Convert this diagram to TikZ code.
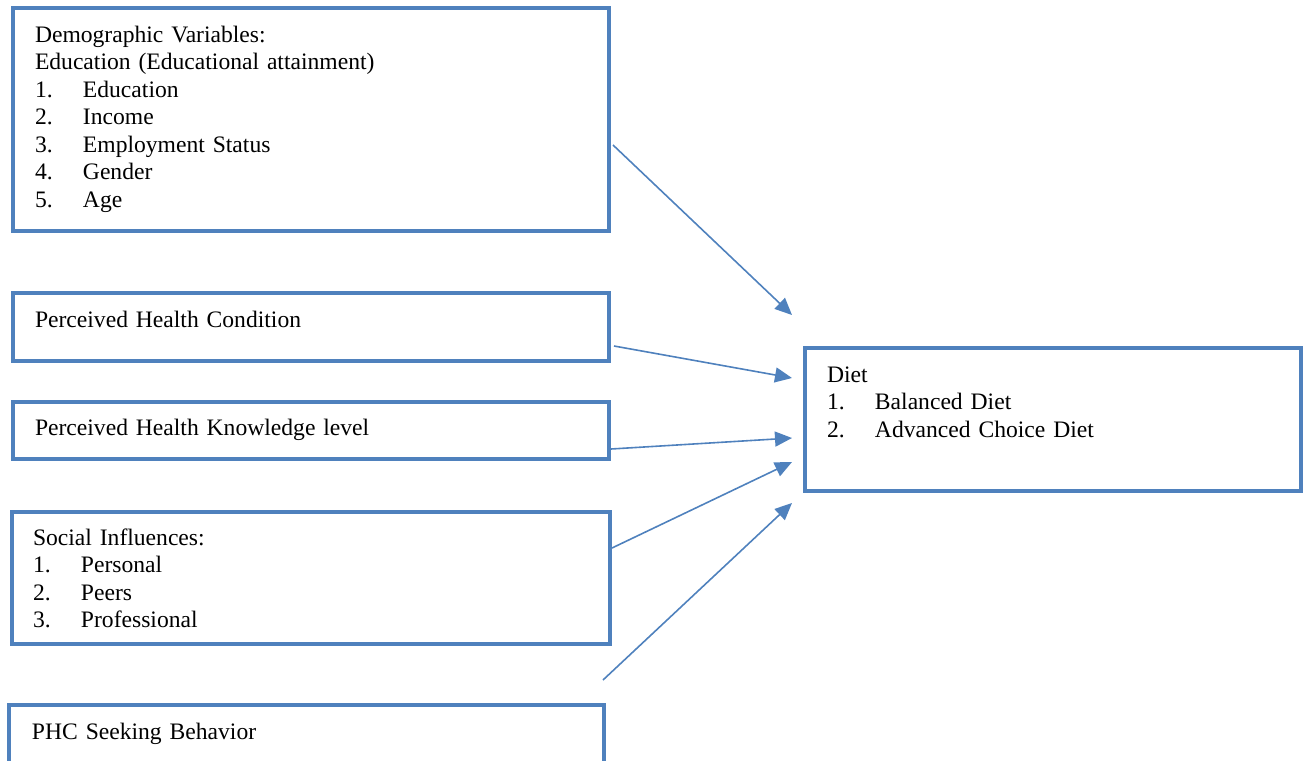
\documentclass[tikz,border=0pt]{standalone}
\usepackage{fontspec}
\setmainfont{Liberation Serif}
\usetikzlibrary{arrows.meta}
\definecolor{ofblue}{RGB}{79,129,189}
\newcommand{\numitem}[1]{\makebox[24pt][l]{#1}}

\begin{document}
\begin{tikzpicture}[
        x=0.5pt, y=-0.5pt,
        box/.style={draw=ofblue, line width=2pt, anchor=north west, align=left,
            inner ysep=0pt, outer sep=0pt, font=\fontsize{11.8}{13.75}\selectfont},
        arrow/.style={-{Triangle[length=8.5pt,width=7.5pt]}, draw=ofblue, line width=0.8pt}
    ]
        \path[use as bounding box, clip] (0,0) rectangle (1308,761);

        % Factors on the left
        \node[box, inner xsep=11.25pt, text width=275.75pt, text height=17.25pt, text depth=94.25pt] (demo) at (12.5,7.5)
            {Demographic Variables:\\
             Education (Educational attainment)\\
             \numitem{1.}Education\\
             \numitem{2.}Income\\
             \numitem{3.}Employment Status\\
             \numitem{4.}Gender\\
             \numitem{5.}Age};
        \node[box, inner xsep=11.25pt, text width=275.75pt, text height=17.25pt, text depth=16.75pt] (cond) at (12.5,292.5)
            {Perceived Health Condition};
        \node[box, inner xsep=11.25pt, text width=275.75pt, text height=16.75pt, text depth=11.75pt] (know) at (12.5,401.5)
            {Perceived Health Knowledge level};
        \node[box, inner xsep=10.5pt, text width=277.75pt, text height=16.75pt, text depth=49.5pt] (social) at (12,511.5)
            {Social Influences:\\
             \numitem{1.}Personal\\
             \numitem{2.}Peers\\
             \numitem{3.}Professional};
        \node[box, inner xsep=11.75pt, text width=274.25pt, text height=17.25pt, text depth=30pt] (phc) at (8.5,704.5)
            {PHC Seeking Behavior};

        % Outcome on the right
        \node[box, inner xsep=11.25pt, text width=225.5pt, text height=17.25pt, text depth=54.25pt] (diet) at (804.5,347.5)
            {Diet\\
             \numitem{1.}Balanced Diet\\
             \numitem{2.}Advanced Choice Diet};

        % Arrow ends
        \coordinate (demo-out) at (613,145);
        \coordinate (demo-in) at (792,315);
        \coordinate (cond-out) at (614,346);
        \coordinate (cond-in) at (792,378);
        \coordinate (know-out) at (611,449);
        \coordinate (know-in) at (792,438);
        \coordinate (social-out) at (612,548);
        \coordinate (social-in) at (792,462);
        \coordinate (phc-out) at (603,680);
        \coordinate (phc-in) at (792,503);

        \draw[arrow] (demo-out) -- (demo-in);
        \draw[arrow] (cond-out) -- (cond-in);
        \draw[arrow] (know-out) -- (know-in);
        \draw[arrow] (social-out) -- (social-in);
        \draw[arrow] (phc-out) -- (phc-in);
    \end{tikzpicture}
\end{document}
